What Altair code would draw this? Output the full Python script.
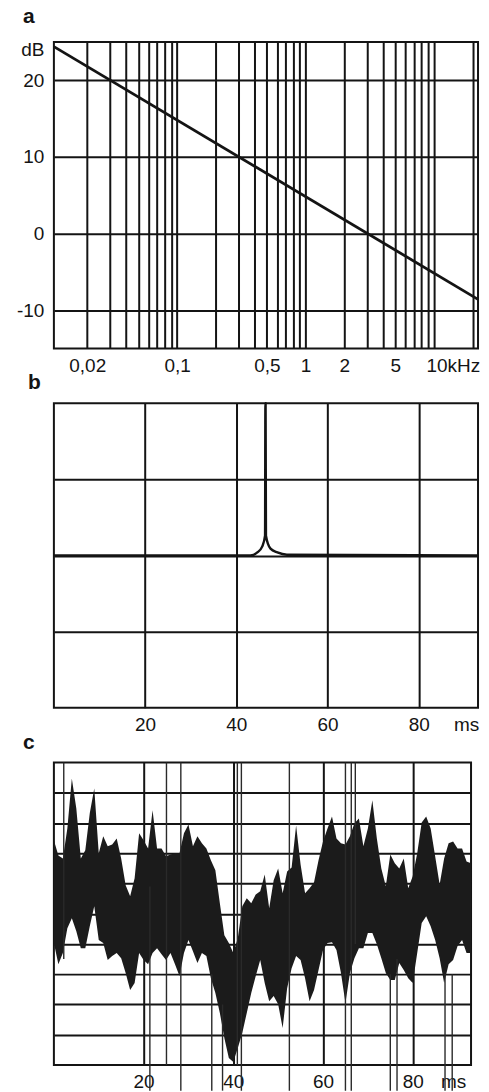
import altair as alt
import pandas as pd

FONT = "Liberation Sans"
INK = "#141414"

# ---------------- panel a : level vs frequency ----------------
a_freq_khz = [0.011, 22.0]
a_level_db = [24.4, -8.6]
a_grid_khz = [0.02, 0.03, 0.04, 0.05, 0.06, 0.07, 0.08, 0.09,
              0.1, 0.2, 0.3, 0.4, 0.5, 0.6, 0.7, 0.8, 0.9,
              1, 2, 3, 4, 5, 6, 7, 8, 9, 10, 20]
a_xlabel_vals = [0.02, 0.1, 0.5, 1, 2, 5, 10]
a_xlabel_txt = ["0,02", "0,1", "0,5", "1", "2", "5", "10kHz"]
a_ylabel_vals = [-10, 0, 10, 20, 24]
a_ylabel_txt = ["-10", "0", "10", "20", "dB"]

# ---------------- panel b : impulse ----------------
b_time_ms = [0, 43.1, 44.6, 45.7, 46.3, 46.38, 46.42, 46.5, 47.5, 49.0, 51.1, 93]
b_amp = [0, 0, 0.04, 0.12, 0.26, 2.0, 2.0, 0.26, 0.09, 0.04, 0.01, 0]
b_xgrid = [20, 40, 60, 80, 90.4]
b_xlabel_txt = ["20", "40", "60", "80", "ms"]
b_ygrid = [-1, 0, 1]

# ---------------- panel c : noise envelope ----------------
c_time_ms = [0, 1, 2, 3, 4, 5, 6, 7, 8, 9, 10, 11, 12, 13, 14, 15, 16, 17, 18, 19,
             20, 21, 22, 23, 24, 25, 26, 27, 28, 29, 30, 31, 32, 33, 34, 35, 36, 37, 38, 39,
             40, 41, 42, 43, 44, 45, 46, 47, 48, 49, 50, 51, 52, 53, 54, 55, 56, 57, 58, 59,
             60, 61, 62, 63, 64, 65, 66, 67, 68, 69, 70, 71, 72, 73, 74, 75, 76, 77, 78, 79,
             80, 81, 82, 83, 84, 85, 86, 87, 88, 89, 90, 91, 92, 93]
c_upper = [7.43, 6.93, 6.83, 7.82, 9.47, 8.48, 6.83, 7.10, 8.32, 9.14,
           7.00, 7.56, 7.23, 7.29, 7.49, 6.83, 5.94, 5.58, 6.17, 7.66,
           7.43, 7.16, 8.42, 7.16, 7.16, 6.90, 6.96, 7.00, 7.00, 7.66,
           7.95, 7.23, 7.56, 7.33, 7.16, 6.77, 6.44, 5.35, 4.29, 4.03,
           3.70, 4.19, 5.25, 5.51, 5.35, 5.64, 5.74, 6.30, 5.18, 6.11,
           6.50, 5.68, 6.40, 6.53, 7.92, 6.63, 5.68, 5.84, 6.04, 6.77,
           7.39, 7.82, 8.22, 7.49, 7.33, 7.29, 7.56, 7.99, 8.15, 7.23,
           7.82, 8.75, 7.49, 6.50, 5.91, 6.96, 6.67, 6.50, 6.83, 5.84,
           6.24, 7.00, 8.02, 8.22, 7.82, 6.90, 5.97, 6.83, 7.33, 7.39,
           7.16, 7.16, 6.73, 6.67]
c_lower = [4.03, 3.33, 3.70, 4.52, 4.85, 4.42, 3.86, 3.86, 4.59, 5.25,
           4.13, 4.03, 3.47, 3.60, 3.70, 3.53, 3.04, 2.48, 2.71, 3.70,
           3.47, 3.33, 3.70, 3.86, 3.66, 3.47, 3.70, 3.33, 2.94, 3.70,
           4.13, 3.76, 3.37, 3.70, 3.60, 2.87, 2.38, 1.72, 0.89, 0.23,
           0.10, 0.56, 1.06, 1.72, 2.38, 2.94, 3.47, 2.71, 2.11, 2.28,
           2.01, 1.22, 2.54, 3.20, 3.60, 3.47, 2.87, 2.11, 2.48, 3.14,
           3.80, 4.03, 4.06, 3.80, 3.04, 2.05, 3.04, 3.53, 3.86, 3.86,
           4.36, 4.36, 3.99, 3.53, 3.04, 2.81, 2.81, 3.37, 3.14, 2.87,
           2.71, 3.70, 4.69, 4.92, 4.59, 4.13, 3.53, 2.71, 3.33, 3.47,
           3.93, 4.13, 3.70, 3.70]
c_spike_ms = [2.2, 21.4, 25.1, 28.3, 35.2, 37.6, 40.9, 41.8, 52.5, 65.0, 66.3, 67.2,
              75.0, 76.5, 87.2, 88.8]
c_spike_top = [10, 5.9, 10, 10, 3.0, 2.0, 10, 10, 10, 10, 10, 10, 3.0, 3.5, 3.0, 3.0]
c_spike_bottom = [3.5, -0.85, 0, -0.85, -0.85, -0.85, 0, -0.85, -0.85, -0.85, -0.85, 4.0,
                  -0.85, -0.85, -0.85, -0.85]
c_xgrid = [20, 40, 60, 80, 89]
c_xlabel_txt = ["20", "40", "60", "80", "ms"]
c_ygrid = [1, 2, 3, 4, 5, 6, 7, 8, 9]

letters = ["a", "b", "c"]


def label_expr(vals, txts, rel=False):
    expr = "''"
    for v, t in reversed(list(zip(vals, txts))):
        if rel:
            test = f"abs(datum.value/{v}-1)<1e-6"
        else:
            test = f"abs(datum.value-({v}))<1e-6"
        expr = f"{test} ? '{t}' : ({expr})"
    return expr


def letter_layer(ch, dx, dy):
    return alt.Chart(pd.DataFrame({"letter": [ch]})).mark_text(
        font=FONT, fontSize=21, fontWeight="bold", align="left",
        baseline="alphabetic", color=INK
    ).encode(x=alt.value(dx), y=alt.value(dy), text="letter:N")


# ---- panel a
df_a = pd.DataFrame({"f": a_freq_khz, "db": a_level_db})
ten_test = "abs(datum.value/10-1)<1e-6"
a_x = alt.X("f:Q", scale=alt.Scale(type="log", domain=[0.011, 22], nice=False),
            axis=alt.Axis(values=a_grid_khz, labelExpr=label_expr(a_xlabel_vals, a_xlabel_txt, rel=True),
                          title=None, grid=True, labelPadding=8,
                          labelAlign={"condition": {"test": ten_test, "value": "left"}, "value": "center"},
                          labelOffset={"condition": {"test": ten_test, "value": -8}, "value": 0}))
a_y = alt.Y("db:Q", scale=alt.Scale(domain=[-15, 25], nice=False, zero=False),
            axis=alt.Axis(values=a_ylabel_vals, labelExpr=label_expr(a_ylabel_vals, a_ylabel_txt),
                          title=None, grid=True, labelPadding=10,
                          gridOpacity={"condition": {"test": "datum.value==24", "value": 0}, "value": 1}))
panel_a = alt.layer(
    alt.Chart(df_a).mark_line(color=INK, strokeWidth=2.8).encode(x=a_x, y=a_y),
    letter_layer(letters[0], -31, -19),
).properties(width=425, height=307)

# ---- panel b
df_b = pd.DataFrame({"t": b_time_ms, "v": b_amp})
b_x = alt.X("t:Q", scale=alt.Scale(domain=[0, 93], nice=False, zero=False),
            axis=alt.Axis(values=b_xgrid, labelExpr=label_expr(b_xgrid, b_xlabel_txt),
                          title=None, grid=True, labelPadding=8,
                          gridOpacity={"condition": {"test": "datum.value>90", "value": 0}, "value": 1}))
b_y = alt.Y("v:Q", scale=alt.Scale(domain=[-2, 2], nice=False),
            axis=alt.Axis(values=b_ygrid, labels=False, title=None, grid=True))
panel_b = alt.layer(
    alt.Chart(df_b).mark_line(color=INK, strokeWidth=2.4, interpolate="monotone").encode(x=b_x, y=b_y),
    letter_layer(letters[1], -26, -14),
).properties(width=425, height=305)

# ---- panel c
df_c = pd.DataFrame({"t": c_time_ms, "hi": c_upper, "lo": c_lower})
df_s = pd.DataFrame({"t": c_spike_ms, "hi": c_spike_top, "lo": c_spike_bottom})
c_scale_x = alt.Scale(domain=[0, 93], nice=False, zero=False)
c_scale_y = alt.Scale(domain=[0, 10], nice=False, zero=False)
c_axis_x = alt.Axis(values=c_xgrid, labelExpr=label_expr(c_xgrid, c_xlabel_txt),
                    title=None, grid=True, labelPadding=8,
                    gridOpacity={"condition": {"test": "datum.value>85", "value": 0}, "value": 1})
c_axis_y = alt.Axis(values=c_ygrid, labels=False, title=None, grid=True)
c_x = alt.X("t:Q", scale=c_scale_x, axis=c_axis_x)
c_y = alt.Y("hi:Q", scale=c_scale_y, axis=c_axis_y)
c_area = alt.Chart(df_c).mark_area(color="#1b1b1b", interpolate="linear").encode(
    x=c_x, y=c_y, y2="lo:Q",
)
c_spikes = alt.Chart(df_s).mark_rule(color="#2a2a2a", strokeWidth=1.4).encode(
    x=c_x, y=c_y, y2="lo:Q",
)
panel_c = alt.layer(c_area, c_spikes, letter_layer(letters[2], -31, -14)).properties(width=418, height=303)

chart = alt.vconcat(panel_a, panel_b, panel_c, spacing=55, bounds="flush").properties(
    padding={"left": 15, "top": 4, "right": 4, "bottom": 0},
    background="white",
).configure_view(
    stroke=INK, strokeWidth=2
).configure_axis(
    labelFont=FONT, labelFontSize=19, labelColor=INK, gridColor=INK, gridWidth=2,
    domain=False, ticks=False, labelOverlap=False, labelFlush=False, labelBound=False
)

chart.save("out.html", embed_options={"renderer": "svg", "actions": False})
